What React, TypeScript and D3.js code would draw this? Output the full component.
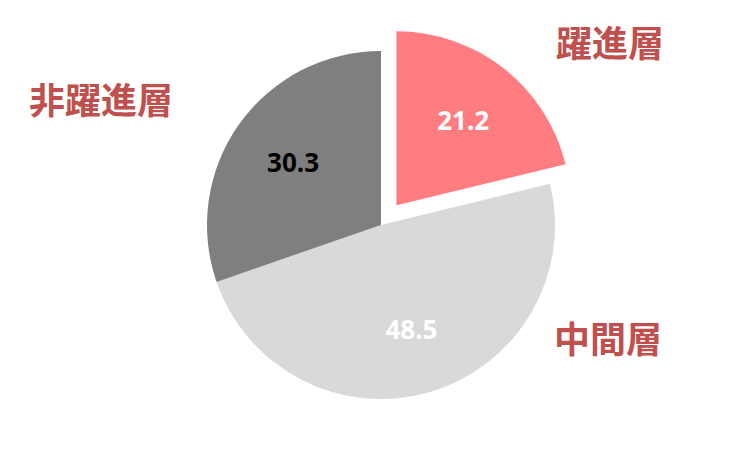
import React from 'react';
import * as d3 from 'd3';

const categories = ['躍進層', '中間層', '非躍進層'];
const values = [21.2, 48.5, 30.3];
const sliceColors = ['#FF7C80', '#D9D9D9', '#7F7F7F'];
const valueColors = ['#FFFFFF', '#FFFFFF', '#000000'];
const exploded = [true, false, false];

const width = 756;
const height = 450;
const cx = 381;
const cy = 225;
const radius = 174;
const explodeOffset = 25;
const labelRadius = 108;

// category label spots, placed by hand beside the pie
const categoryLabelPos: [number, number][] = [
  [610, 41],
  [608, 337],
  [101, 98],
];

export default function App() {
  const pie = d3.pie<number>().sort(null).value(d => d);
  const arcs = pie(values);
  const arcGen = d3.arc<d3.PieArcDatum<number>>().innerRadius(0).outerRadius(radius);

  return (
    <svg width={width} height={height} style={{ position: 'absolute', left: 0, top: 0, background: '#fff' }}>
      <g transform={`translate(${cx},${cy})`}>
        {arcs.map((a, i) => {
          const mid = (a.startAngle + a.endAngle) / 2;
          const off = exploded[i] ? explodeOffset : 0;
          const dx = Math.sin(mid) * off;
          const dy = -Math.cos(mid) * off;
          const lx = dx + Math.sin(mid) * labelRadius;
          const ly = dy - Math.cos(mid) * labelRadius;
          return (
            <g key={categories[i]}>
              <path d={arcGen(a) || ''} fill={sliceColors[i]} transform={`translate(${dx},${dy})`} />
              <text
                x={lx}
                y={ly}
                textAnchor="middle"
                dominantBaseline="central"
                fontFamily="'Noto Sans', 'DejaVu Sans', sans-serif"
                fontWeight="bold"
                fontSize={26}
                fill={valueColors[i]}
              >
                {values[i].toFixed(1)}
              </text>
            </g>
          );
        })}
      </g>
      {categories.map((c, i) => (
        <text
          key={c}
          x={categoryLabelPos[i][0]}
          y={categoryLabelPos[i][1]}
          textAnchor="middle"
          dominantBaseline="central"
          fontFamily="'Noto Sans CJK JP', sans-serif"
          fontWeight="bold"
          fontSize={36}
          fill="#C0504D"
        >
          {c}
        </text>
      ))}
    </svg>
  );
}
